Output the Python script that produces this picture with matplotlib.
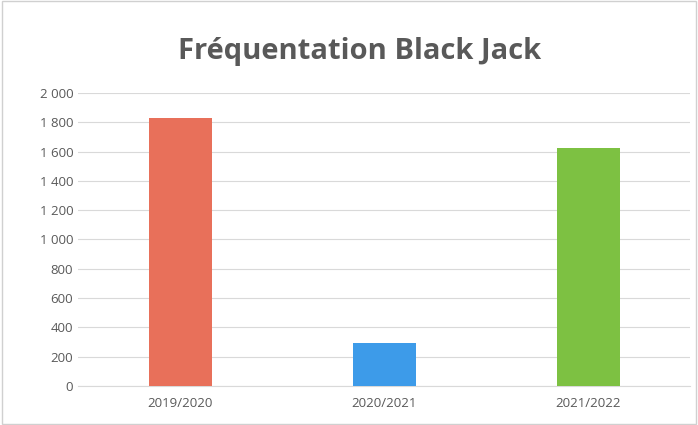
import matplotlib
matplotlib.use("Agg")
import matplotlib.pyplot as plt
from matplotlib.ticker import FuncFormatter, MultipleLocator

# données
saisons = ["2019/2020", "2020/2021", "2021/2022"]
frequentation = [1830, 295, 1625]
couleurs = ["#E8705A", "#3D9BE9", "#7DC142"]

plt.rcParams['font.family'] = ['Open Sans', 'DejaVu Sans']

fig = plt.figure(figsize=(6.98, 4.25), dpi=100)
ax = fig.add_axes([0.112, 0.092, 0.877, 0.689])

ax.bar(range(len(saisons)), frequentation, width=0.31, color=couleurs, zorder=3)

ax.set_ylim(0, 2000)
ax.set_xlim(-0.5, len(saisons) - 0.5)
ax.yaxis.set_major_locator(MultipleLocator(200))
ax.yaxis.set_major_formatter(FuncFormatter(lambda v, p: f"{int(v):,}".replace(",", " ")))
ax.grid(axis="y", color="#D9D9D9", linewidth=0.8, zorder=0)

ax.set_xticks(range(len(saisons)))
ax.set_xticklabels(saisons)
ax.tick_params(axis="both", length=0, labelsize=9.5, labelcolor="#595959")
ax.tick_params(axis="x", pad=8)
for s in ax.spines.values():
    s.set_visible(False)
ax.spines["bottom"].set_visible(True)
ax.spines["bottom"].set_color("#D9D9D9")

fig.text(0.515, 0.88, "Fréquentation Black Jack", ha="center", va="center",
         fontsize=21, fontweight="bold", color="#595959")

# cadre du graphique
fig.patches.append(plt.Rectangle((0.003, 0.003), 0.994, 0.994, transform=fig.transFigure,
                                 fill=False, edgecolor="#D0D0D0", linewidth=1))

fig.savefig("out.png", dpi=100)
